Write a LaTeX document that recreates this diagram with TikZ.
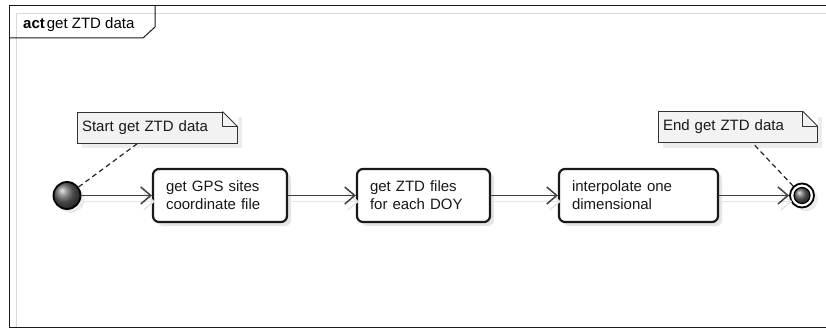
\documentclass[tikz,border=0pt]{standalone}
\usepackage{fontspec}
\setmainfont{Liberation Sans}
\usetikzlibrary{arrows.meta,shadows,calc}
\begin{document}
\begin{tikzpicture}[x=1pt,y=-1pt,
  txt/.style={font=\fontsize{15}{18}\selectfont, text=black!90},
  actbox/.style={txt, draw=black!90, line width=2.2pt, rounded corners=6pt,
    fill=white, drop shadow={shadow xshift=4pt,shadow yshift=-4pt,fill=black!20},
    minimum height=53pt, align=left, inner xsep=13pt, anchor=center},
  notebox/.style={txt, draw=black!80, line width=0.9pt, fill=black!5,
    drop shadow={shadow xshift=5pt,shadow yshift=-5pt,fill=black!15},
    minimum height=31pt, align=left, inner xsep=5pt, inner ysep=0pt},
  flow/.style={draw=black!75, line width=1.5pt,
    -{Straight Barb[length=10pt,width=17pt]}},
  flowshade/.style={draw=black!10, line width=1.5pt,
    -{Straight Barb[length=10pt,width=17pt]}},
  anchorline/.style={draw=black!85, line width=1.2pt, dash pattern=on 5pt off 3.5pt},
  fold/.style={draw=black!80, line width=0.9pt},
]
\useasboundingbox (0,0) rectangle (826,329);

% diagram frame and its faint inner rule
\draw[black!15, line width=0.8pt] (826,13) -- (16,13) -- (16,327);
\draw[black!90, line width=1pt] (826,6) -- (9,6) -- (9,327) -- (826,327);
\draw[black!90, line width=1pt] (9,38) -- (143,38) -- (155,27) -- (155,6);
\node[anchor=base west, inner sep=0pt, font=\fontsize{15}{18}\selectfont] (title) at (23,29)
  {\textbf{act}\hspace{2pt}get ZTD data};

% notes
\node[notebox, text width=150pt] (note1) at (157,127.5) {Start get ZTD data};
\fill[white] ($(note1.north east)+(-15,0)$) -- ($(note1.north east)+(1,0)$) -- ($(note1.north east)+(1,16)$) -- cycle;
\draw[fold] ($(note1.north east)+(-15,0)$) -- ($(note1.north east)+(0,15)$) -- (note1.south east);
\draw[fold] ($(note1.north east)+(-15,0)$) -- ($(note1.north east)+(-15,15)$) -- ($(note1.north east)+(0,15)$);

\node[notebox, text width=149pt] (note2) at (737.5,127) {End get ZTD data};
\fill[white] ($(note2.north east)+(-15,0)$) -- ($(note2.north east)+(1,0)$) -- ($(note2.north east)+(1,16)$) -- cycle;
\draw[fold] ($(note2.north east)+(-15,0)$) -- ($(note2.north east)+(0,15)$) -- (note2.south east);
\draw[fold] ($(note2.north east)+(-15,0)$) -- ($(note2.north east)+(-15,15)$) -- ($(note2.north east)+(0,15)$);

% actions
\node[actbox, text width=108pt] (a1) at (220,195.5) {get GPS sites\\coordinate file};
\node[actbox, text width=107pt] (a2) at (423.5,195.5) {get ZTD files\\for each DOY};
\node[actbox, text width=133pt] (a3) at (638.5,195.5) {interpolate one\\dimensional};

% initial and final nodes
\node[circle, minimum size=27pt, inner sep=0pt, draw=black, line width=1.8pt,
  ball color=black!60, drop shadow={shadow xshift=4pt,shadow yshift=-4pt,fill=black!15}] (start) at (67,195.5) {};
\node[circle, minimum size=24pt, inner sep=0pt, draw=black, line width=1.8pt, fill=white,
  drop shadow={shadow xshift=4pt,shadow yshift=-4pt,fill=black!15}] (end) at (802,195.5) {};
\node[circle, minimum size=16pt, inner sep=0pt, draw=black, line width=1.2pt,
  ball color=black!60] (endcore) at (end.center) {};

% note anchors
\coordinate (n1foot) at ($(note1.south west)+(61,0)$);
\coordinate (n2foot) at ($(note2.south west)+(95,0)$);
\draw[anchorline] (start) -- (n1foot);
\draw[anchorline] (end) -- (n2foot);

% control flow, with faint shadows
\draw[flowshade] ($(start.east)+(3,6)$) -- ($(a1.west)+(3,6)$);
\draw[flowshade] ($(a1.east)+(3,6)$) -- ($(a2.west)+(3,6)$);
\draw[flowshade] ($(a2.east)+(3,6)$) -- ($(a3.west)+(3,6)$);
\draw[flowshade] ($(a3.east)+(3,6)$) -- ($(end.west)+(3,6)$);
\draw[flow] (start) -- (a1);
\draw[flow] (a1) -- (a2);
\draw[flow] (a2) -- (a3);
\draw[flow] (a3) -- (end);
\end{tikzpicture}
\end{document}
